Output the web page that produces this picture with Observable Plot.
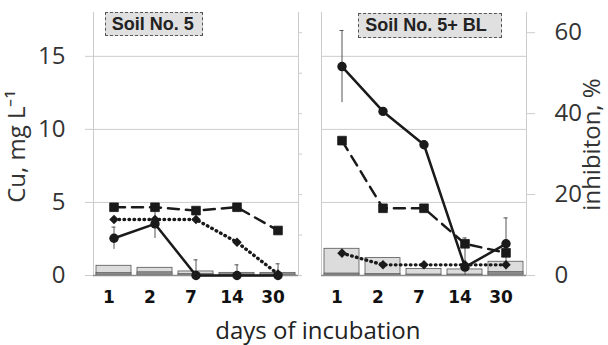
<!DOCTYPE html>
<html>
<head>
<meta charset="utf-8">
<script src="https://cdn.jsdelivr.net/npm/d3@7"></script>
<script src="https://cdn.jsdelivr.net/npm/@observablehq/plot@0.6"></script>
<style>
  html, body { margin: 0; padding: 0; background: #fff; }
  #wrap { position: relative; width: 608px; height: 345px; overflow: hidden; }
  .panel-label {
    position: absolute; box-sizing: border-box;
    background: #e0e0e0; border: 1.3px dashed #555;
    font-family: "Liberation Sans", Arial, sans-serif; font-weight: bold;
    font-size: 18px; color: #222; line-height: 22px; padding-left: 6px; white-space: nowrap;
  }
</style>
</head>
<body>
<div id="wrap"></div>
<script>
// ---- data ----
const days = ["1", "2", "7", "14", "30"];
const panels = ["Soil No. 5", "Soil No. 5+ BL"];

// Cu, mg L-1 (left axis)
const solid5      = [2.55, 3.53, 0, 0, 0];
const solid5Err   = [0.76, 1.0, 1.07, 0.73, 0.8];
const dashed5     = [4.67, 4.67, 4.44, 4.67, 3.08];
const dotted5     = [3.83, 3.83, 3.83, 2.28, 0.1];
const solidBL     = [14.3, 11.23, 8.95, 0.57, 2.17];
const solidBLErr  = [2.47, 0.2, 0.25, 2.0, 1.77];
const dashedBL    = [9.23, 4.6, 4.6, 2.17, 1.55];
const dottedBL    = [1.53, 0.73, 0.73, 0.73, 0.73];

// inhibiton, % (right axis)
const inhib5      = [2.4, 1.9, 1.0, 0.65, 0.65];
const inhibDark5  = [0.65, 0.8, 0.4, 0.3, 0.3];
const inhibBL     = [6.6, 4.3, 1.6, 1.5, 3.4];
const inhibDarkBL = [0.5, 0.4, 0.25, 0.25, 0.9];

const cuMax = 18, pctMax = 65;
const K = cuMax / pctMax; // % -> left-axis units
const pctTicks = [0, 20, 40, 60];
const pctMinorTicks = [0, 10, 20, 30, 40, 50, 60];

function build(panel, solid, err, dashed, dotted, inhib, dark) {
  return days.map((day, i) => ({
    panel, day, solid: solid[i], err: err[i], dashed: dashed[i], dotted: dotted[i],
    inhib: inhib[i], dark: dark[i]
  }));
}
const rows = [
  ...build(panels[0], solid5, solid5Err, dashed5, dotted5, inhib5, inhibDark5),
  ...build(panels[1], solidBL, solidBLErr, dashedBL, dottedBL, inhibBL, inhibDarkBL)
];

const ink = "#1a1a1a";
const gridC = "#cccccc";
const numFont = "Open Sans";

const chart = Plot.plot({
  width: 608,
  height: 345,
  marginLeft: 93,
  marginRight: 81,
  marginTop: 12,
  marginBottom: 70,
  style: { background: "white", fontFamily: numFont, color: "#333" },
  fx: { domain: panels, paddingInner: 0.1, paddingOuter: 0, axis: null, label: null },
  x: { domain: days, padding: 0, label: null },
  y: { domain: [0, cuMax], label: null },
  marks: [
    Plot.gridY([5, 10, 15], { stroke: gridC, strokeOpacity: 1 }),
    Plot.frame({ anchor: "left", stroke: gridC }),
    Plot.frame({ anchor: "right", stroke: gridC }),
    // bars (inhibition %, right axis)
    Plot.barY(rows, { fx: "panel", x: "day", y: d => d.inhib * K, fill: "#dcdcdc", stroke: "#555", strokeWidth: 0.8, insetLeft: 3, insetRight: 3 }),
    Plot.barY(rows, { fx: "panel", x: "day", y: d => d.dark * K, fill: "#8a8a8a", stroke: "#555", strokeWidth: 0.6, insetLeft: 3, insetRight: 3 }),
    Plot.ruleY([0], { stroke: "#8c8c8c", strokeWidth: 1.5 }),
    // error bars
    Plot.ruleX(rows, { fx: "panel", x: "day", y1: d => Math.max(0, d.solid - d.err), y2: d => d.solid + d.err, stroke: "#555", strokeWidth: 1 }),
    Plot.tickY(rows, { fx: "panel", x: "day", y: d => d.solid + d.err, stroke: "#555", strokeWidth: 1, insetLeft: 18.5, insetRight: 18.5 }),
    // lines
    Plot.line(rows, { fx: "panel", x: "day", y: "dotted", stroke: ink, strokeWidth: 3.4, strokeDasharray: "0.6,4.4", strokeLinecap: "round" }),
    Plot.line(rows, { fx: "panel", x: "day", y: "dashed", stroke: ink, strokeWidth: 2.5, strokeDasharray: "11,7" }),
    Plot.line(rows, { fx: "panel", x: "day", y: "solid", stroke: ink, strokeWidth: 2.5 }),
    // markers
    Plot.dot(rows, { fx: "panel", x: "day", y: "dotted", symbol: "diamond2", r: 4.3, fill: ink, stroke: "none" }),
    Plot.dot(rows, { fx: "panel", x: "day", y: "dashed", symbol: "square", r: 4.9, fill: ink, stroke: ink, strokeWidth: 0.8, strokeLinejoin: "round" }),
    Plot.dot(rows, { fx: "panel", x: "day", y: "solid", symbol: "circle", r: 4.7, fill: ink, stroke: "none" }),
    // axes
    Plot.axisY({ anchor: "left", ticks: [0, 5, 10, 15], tickSize: 8, tickPadding: 20, stroke: gridC, fill: "#333", fontSize: 24, fontFamily: numFont, label: null }),
    Plot.axisY({ anchor: "right", facetAnchor: "left", ticks: pctMinorTicks.map(p => p * K), tickSize: 3, tickFormat: () => "", stroke: gridC, label: null }),
    Plot.axisY({ anchor: "right", facetAnchor: "right", ticks: pctTicks.map(p => p * K), tickFormat: v => String(Math.round(v / K)), tickSize: 8, tickPadding: 20, stroke: gridC, fill: "#333", fontSize: 24, fontFamily: numFont, label: null }),
    Plot.axisX({ tickSize: 0, tickPadding: 15, fontSize: 17, fontWeight: "bold", fontFamily: "DejaVu Sans", fill: "#111", dx: -5, label: null }),
    // axis titles
    Plot.text([{ panel: panels[0], t: "Cu, mg L\u207B\u00B9" }], { fx: "panel", text: "t", frameAnchor: "left", rotate: -90, dx: -76, dy: 2.5, textAnchor: "middle", lineAnchor: "middle", fontSize: 24, fontFamily: numFont, fill: "#333" }),
    Plot.text([{ panel: panels[1], t: "inhibiton, %" }], { fx: "panel", text: "t", frameAnchor: "right", rotate: -90, dx: 66, dy: 0.5, textAnchor: "middle", lineAnchor: "middle", fontSize: 24, fontFamily: numFont, fill: "#333" }),
    Plot.text([{ panel: panels[0], t: "days of incubation" }], { fx: "panel", text: "t", frameAnchor: "bottom-right", dx: 19.4, dy: 56, textAnchor: "middle", lineAnchor: "middle", fontSize: 24, fontFamily: numFont, fill: "#222" })
  ]
});

const wrap = document.getElementById("wrap");
wrap.appendChild(chart);

// panel name boxes
const boxes = [
  { text: panels[0], left: 104.7, top: 11.7, width: 98.6, height: 24.3 },
  { text: panels[1], left: 358.3, top: 13.3, width: 144, height: 24.4 }
];
for (const b of boxes) {
  const el = document.createElement("div");
  el.className = "panel-label";
  el.textContent = b.text;
  Object.assign(el.style, { left: b.left + "px", top: b.top + "px", width: b.width + "px", height: b.height + "px" });
  wrap.appendChild(el);
}
</script>
</body>
</html>
